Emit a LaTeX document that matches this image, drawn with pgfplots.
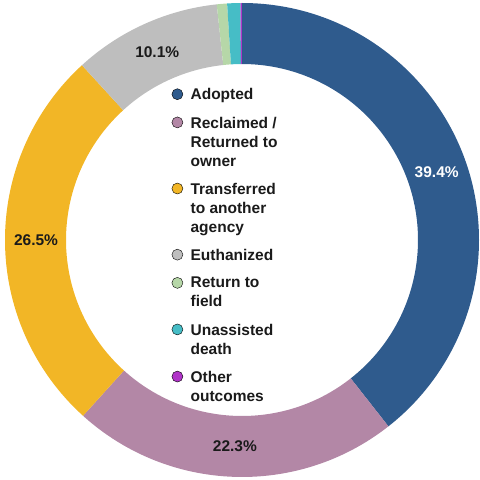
\documentclass[border=0pt]{standalone}
\usepackage{fontspec}
\setmainfont{Liberation Sans}
\usepackage{pgfplots}
\usepackage{pgfplotstable}
\pgfplotsset{compat=1.18}

\definecolor{cAdopted}{HTML}{2F5B8D}
\definecolor{cReclaimed}{HTML}{B387A6}
\definecolor{cTransferred}{HTML}{F2B626}
\definecolor{cEuthanized}{HTML}{BEBEBE}
\definecolor{cField}{HTML}{B6D7A8}
\definecolor{cDeath}{HTML}{46BDC6}
\definecolor{cOther}{HTML}{B034C8}
\definecolor{txt}{HTML}{1A1A1A}

\newcommand\labelfont{\fontsize{15.5bp}{19bp}\selectfont\bfseries}

% share of outcomes, percent
\pgfplotstableread{
value color tcol
39.4 cAdopted white
22.3 cReclaimed txt
26.5 cTransferred txt
10.1 cEuthanized txt
0.7 cField txt
0.9 cDeath txt
0.1 cOther txt
}\outcomes

\begin{document}
\begin{tikzpicture}
\path[use as bounding box] (0,0) rectangle (480bp,480bp);
\begin{axis}[
  at={(0,0)}, anchor=south west,
  scale only axis, width=480bp, height=480bp,
  xmin=0, xmax=480, ymin=0, ymax=480,
  hide axis, clip=false,
  legend cell align=left,
  legend image code/.code={\fill[#1] (0bp,-5.8bp) circle[radius=5.5bp];},
  legend style={
    at={(axis cs:171.5,391.8)}, anchor=north west,
    draw=none, fill=none, inner sep=0pt,
    font=\labelfont, text=txt,
    cells={align=left},
    nodes={anchor=north west, inner xsep=0pt, inner ysep=0pt, text depth=0pt},
    column sep=7.5bp,
    row sep=16.7bp,
  },
]
\coordinate (C) at (axis cs:242,240);

\pgfplotstablegetrowsof{\outcomes}
\pgfmathtruncatemacro\lastrow{\pgfplotsretval-1}
\def\cum{0}
\pgfplotsforeachungrouped \i in {0,...,\lastrow}{%
  \pgfplotstablegetelem{\i}{value}\of\outcomes \let\val\pgfplotsretval
  \pgfplotstablegetelem{\i}{color}\of\outcomes \let\col\pgfplotsretval
  \pgfplotstablegetelem{\i}{tcol}\of\outcomes \let\tcol\pgfplotsretval
  \pgfmathsetmacro\a{90-3.6*\cum}%
  \pgfmathsetmacro\b{90-3.6*(\cum+\val)}%
  \pgfmathsetmacro\m{(\a+\b)/2}%
  \edef\temp{\noexpand\fill[\col] (C) ++(\a:237bp)
    arc[start angle=\a, end angle=\b, radius=237bp] -- ++(\b:-61bp)
    arc[start angle=\b, end angle=\a, radius=176bp] -- cycle;}%
  \temp
  \pgfmathtruncatemacro\show{\val>5}%
  \ifnum\show=1
    \edef\temp{\noexpand\path (C) ++(\m:206bp)
      node[text=\tcol, font=\noexpand\labelfont] {\val\noexpand\%};}%
    \temp
  \fi
  \pgfmathsetmacro\cum{\cum+\val}%
}

\addlegendimage{fill=cAdopted}
\addlegendentry{Adopted}
\addlegendimage{fill=cReclaimed}
\addlegendentry{Reclaimed /\\Returned to\\owner}
\addlegendimage{fill=cTransferred}
\addlegendentry{Transferred\\to another\\agency}
\addlegendimage{fill=cEuthanized}
\addlegendentry{Euthanized}
\addlegendimage{fill=cField}
\addlegendentry{Return to\\field}
\addlegendimage{fill=cDeath}
\addlegendentry{Unassisted\\death}
\addlegendimage{fill=cOther}
\addlegendentry{Other\\outcomes}
\end{axis}
\end{tikzpicture}
\end{document}
